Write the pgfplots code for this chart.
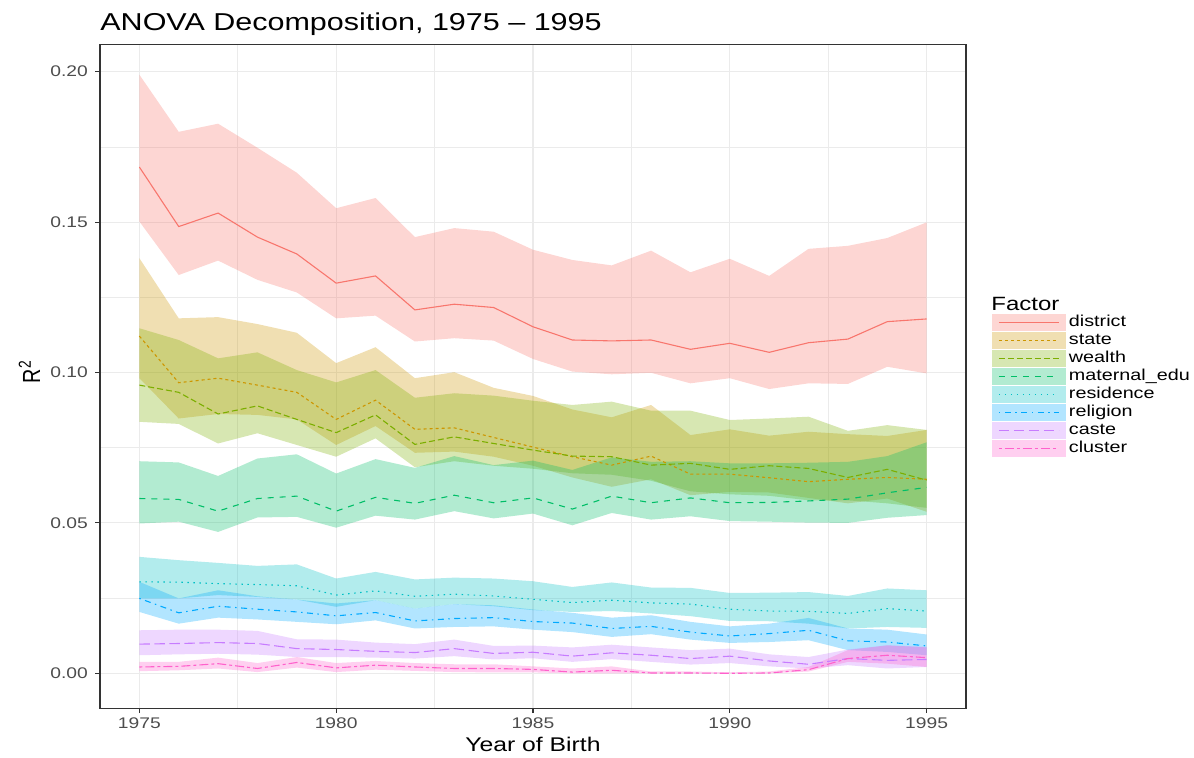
\documentclass[border=0pt]{standalone}
\usepackage{pgfplots}
\pgfplotsset{compat=1.18}
\usepackage{pgfplotstable}
\usepgfplotslibrary{fillbetween}
\usepackage{graphicx}
\usepackage{fontspec}
\setmainfont{Liberation Sans}
\newcommand{\sx}[1]{\scalebox{1.25}[1]{#1}}
\definecolor{cdistrict}{HTML}{F8766D}
\definecolor{cstate}{HTML}{CD9600}
\definecolor{cwealth}{HTML}{7CAE00}
\definecolor{cmaternal}{HTML}{00BE67}
\definecolor{cresidence}{HTML}{00BFC4}
\definecolor{creligion}{HTML}{00A9FF}
\definecolor{ccaste}{HTML}{C77CFF}
\definecolor{ccluster}{HTML}{FF61CC}
\definecolor{gridc}{HTML}{EBEBEB}
\definecolor{framec}{HTML}{333333}
\definecolor{tickc}{HTML}{4D4D4D}

\pgfplotstableread{
year mid lo hi
1975 0.1683 0.1502 0.1990
1976 0.1485 0.1324 0.1800
1977 0.1530 0.1372 0.1827
1978 0.1450 0.1308 0.1747
1979 0.1394 0.1266 0.1664
1980 0.1297 0.1180 0.1546
1981 0.1321 0.1189 0.1580
1982 0.1208 0.1103 0.1450
1983 0.1227 0.1114 0.1480
1984 0.1216 0.1106 0.1468
1985 0.1152 0.1045 0.1408
1986 0.1108 0.1003 0.1374
1987 0.1105 0.0994 0.1356
1988 0.1108 0.0999 0.1405
1989 0.1077 0.0964 0.1333
1990 0.1097 0.0981 0.1378
1991 0.1067 0.0945 0.1321
1992 0.1099 0.0964 0.1411
1993 0.1111 0.0962 0.1421
1994 0.1169 0.1019 0.1447
1995 0.1178 0.0997 0.1499
}\tdistrict

\pgfplotstableread{
year mid lo hi
1975 0.1121 0.0981 0.1380
1976 0.0966 0.0847 0.1180
1977 0.0981 0.0862 0.1184
1978 0.0958 0.0859 0.1161
1979 0.0934 0.0844 0.1132
1980 0.0844 0.0759 0.1031
1981 0.0908 0.0822 0.1084
1982 0.0811 0.0733 0.0981
1983 0.0816 0.0737 0.1001
1984 0.0784 0.0720 0.0949
1985 0.0752 0.0690 0.0922
1986 0.0720 0.0651 0.0877
1987 0.0692 0.0620 0.0851
1988 0.0722 0.0645 0.0892
1989 0.0662 0.0592 0.0792
1990 0.0662 0.0603 0.0811
1991 0.0650 0.0601 0.0790
1992 0.0637 0.0583 0.0803
1993 0.0645 0.0565 0.0795
1994 0.0651 0.0581 0.0789
1995 0.0645 0.0537 0.0809
}\tstate

\pgfplotstableread{
year mid lo hi
1975 0.0958 0.0836 0.1147
1976 0.0934 0.0829 0.1108
1977 0.0862 0.0764 0.1047
1978 0.0889 0.0798 0.1067
1979 0.0844 0.0759 0.1008
1980 0.0800 0.0720 0.0967
1981 0.0859 0.0781 0.1008
1982 0.0761 0.0685 0.0916
1983 0.0786 0.0705 0.0931
1984 0.0764 0.0690 0.0923
1985 0.0742 0.0680 0.0906
1986 0.0722 0.0665 0.0892
1987 0.0720 0.0660 0.0903
1988 0.0692 0.0640 0.0873
1989 0.0698 0.0605 0.0873
1990 0.0678 0.0595 0.0842
1991 0.0690 0.0590 0.0847
1992 0.0681 0.0575 0.0853
1993 0.0651 0.0575 0.0806
1994 0.0678 0.0565 0.0825
1995 0.0642 0.0550 0.0809
}\twealth

\pgfplotstableread{
year mid lo hi
1975 0.0581 0.0498 0.0705
1976 0.0578 0.0504 0.0701
1977 0.0539 0.0470 0.0656
1978 0.0581 0.0518 0.0714
1979 0.0589 0.0520 0.0728
1980 0.0539 0.0484 0.0664
1981 0.0585 0.0524 0.0712
1982 0.0565 0.0511 0.0683
1983 0.0592 0.0539 0.0722
1984 0.0567 0.0515 0.0692
1985 0.0583 0.0531 0.0707
1986 0.0546 0.0492 0.0676
1987 0.0589 0.0533 0.0718
1988 0.0567 0.0511 0.0703
1989 0.0583 0.0522 0.0705
1990 0.0567 0.0506 0.0698
1991 0.0568 0.0504 0.0698
1992 0.0573 0.0501 0.0700
1993 0.0579 0.0500 0.0703
1994 0.0600 0.0517 0.0722
1995 0.0618 0.0526 0.0768
}\tmaternal

\pgfplotstableread{
year mid lo hi
1975 0.0304 0.0249 0.0387
1976 0.0303 0.0249 0.0376
1977 0.0298 0.0260 0.0367
1978 0.0295 0.0254 0.0357
1979 0.0291 0.0245 0.0362
1980 0.0260 0.0221 0.0315
1981 0.0274 0.0243 0.0337
1982 0.0256 0.0215 0.0312
1983 0.0263 0.0230 0.0318
1984 0.0257 0.0223 0.0315
1985 0.0246 0.0210 0.0306
1986 0.0235 0.0204 0.0287
1987 0.0243 0.0207 0.0302
1988 0.0234 0.0199 0.0285
1989 0.0230 0.0190 0.0284
1990 0.0213 0.0174 0.0267
1991 0.0207 0.0173 0.0268
1992 0.0206 0.0165 0.0270
1993 0.0199 0.0149 0.0257
1994 0.0215 0.0154 0.0282
1995 0.0207 0.0151 0.0276
}\tresidence

\pgfplotstableread{
year mid lo hi
1975 0.0249 0.0204 0.0304
1976 0.0201 0.0165 0.0249
1977 0.0223 0.0185 0.0276
1978 0.0213 0.0179 0.0256
1979 0.0204 0.0171 0.0245
1980 0.0191 0.0163 0.0232
1981 0.0202 0.0176 0.0243
1982 0.0174 0.0149 0.0215
1983 0.0182 0.0154 0.0230
1984 0.0185 0.0156 0.0226
1985 0.0172 0.0145 0.0212
1986 0.0167 0.0137 0.0201
1987 0.0149 0.0121 0.0185
1988 0.0156 0.0130 0.0193
1989 0.0137 0.0112 0.0171
1990 0.0124 0.0101 0.0156
1991 0.0132 0.0104 0.0165
1992 0.0143 0.0110 0.0184
1993 0.0108 0.0077 0.0149
1994 0.0104 0.0071 0.0145
1995 0.0091 0.0060 0.0129
}\treligion

\pgfplotstableread{
year mid lo hi
1975 0.0097 0.0060 0.0143
1976 0.0099 0.0063 0.0145
1977 0.0102 0.0065 0.0145
1978 0.0099 0.0062 0.0141
1979 0.0082 0.0054 0.0113
1980 0.0079 0.0054 0.0112
1981 0.0073 0.0052 0.0102
1982 0.0069 0.0049 0.0097
1983 0.0082 0.0057 0.0112
1984 0.0066 0.0046 0.0091
1985 0.0070 0.0050 0.0092
1986 0.0057 0.0038 0.0086
1987 0.0068 0.0047 0.0095
1988 0.0060 0.0038 0.0086
1989 0.0049 0.0029 0.0077
1990 0.0057 0.0034 0.0082
1991 0.0041 0.0023 0.0063
1992 0.0030 0.0016 0.0054
1993 0.0049 0.0027 0.0079
1994 0.0043 0.0016 0.0093
1995 0.0046 0.0021 0.0088
}\tcaste

\pgfplotstableread{
year mid lo hi
1975 0.0021 0.0007 0.0038
1976 0.0023 0.0010 0.0038
1977 0.0032 0.0016 0.0052
1978 0.0016 0.0004 0.0034
1979 0.0036 0.0019 0.0054
1980 0.0018 0.0004 0.0034
1981 0.0027 0.0012 0.0041
1982 0.0021 0.0008 0.0034
1983 0.0016 0.0004 0.0030
1984 0.0016 0.0003 0.0030
1985 0.0013 0.0003 0.0023
1986 0.0004 0.0000 0.0016
1987 0.0010 0.0000 0.0023
1988 0.0001 0.0000 0.0006
1989 0.0001 0.0000 0.0006
1990 0.0000 0.0000 0.0003
1991 0.0001 0.0000 0.0006
1992 0.0012 0.0006 0.0021
1993 0.0049 0.0038 0.0077
1994 0.0060 0.0032 0.0093
1995 0.0052 0.0021 0.0086
}\tcluster

\tikzset{
  ls district/.style={solid},
  ls state/.style={dash pattern=on 1.5pt off 1.5pt},
  ls wealth/.style={dash pattern=on 3pt off 1.5pt},
  ls maternal/.style={dash pattern=on 3pt off 3pt},
  ls residence/.style={dash pattern=on 0.75pt off 2.25pt},
  ls religion/.style={dash pattern=on 0.75pt off 2.25pt on 3pt off 2.25pt},
  ls caste/.style={dash pattern=on 5.25pt off 2.25pt},
  ls cluster/.style={dash pattern=on 1.5pt off 1.5pt on 4.5pt off 1.5pt},
}

\newcommand{\band}[2]{%
  \addplot[draw=none, forget plot, name path=#1U] table[x=year, y=hi] {#2};
  \addplot[draw=none, forget plot, name path=#1L] table[x=year, y=lo] {#2};
  \addplot[fill=c#1, fill opacity=0.3, draw=none, forget plot] fill between[of=#1U and #1L];
}
\newcommand{\midline}[2]{%
  \addplot[c#1, line width=0.55pt, ls #1, forget plot] table[x=year, y=mid] {#2};
}
\newcommand{\legkey}[1]{%
  \addlegendimage{legend image code/.code={%
    \path[fill=c#1, fill opacity=0.3, draw=none] (0pt,-4.25pt) rectangle (37pt,4.25pt);
    \draw[c#1, line width=0.55pt, ls #1] (3.5pt,0pt) -- (33.5pt,0pt);}}
}

\begin{document}
\begin{tikzpicture}
\begin{axis}[
  at={(50pt,24.35pt)}, anchor=south west,
  scale only axis, width=433pt, height=332pt,
  xmin=1974, xmax=1996, ymin=-0.01164, ymax=0.2091,
  xtick={1975,1980,1985,1990,1995},
  minor xtick={1977.5,1982.5,1987.5,1992.5},
  ytick={0,0.05,0.1,0.15,0.2},
  minor ytick={0.025,0.075,0.125,0.175},
  xtick pos=bottom, ytick pos=left,
  grid=both,
  major grid style={color=gridc, line width=0.55pt},
  minor grid style={color=gridc, line width=0.3pt},
  axis line style={color=framec, line width=0.55pt},
  tick align=outside, major tick length=2.4pt, minor tick length=0pt,
  major tick style={color=framec, line width=0.55pt},
  /pgf/number format/assume math mode=true,
  xticklabel={\sx{\pgfmathprintnumber[1000 sep={}]{\tick}}},
  yticklabel={\sx{\pgfmathprintnumber[fixed,fixed zerofill,precision=2]{\tick}}},
  ticklabel style={font=\fontsize{7.7}{9}\selectfont, text=tickc, inner sep=0pt},
  xticklabel style={yshift=-2pt},
  yticklabel style={xshift=-3.5pt},
  legend style={at={(1.0300,0.5934)}, anchor=north west, draw=none, fill=none,
    inner sep=0pt, outer sep=0pt, row sep=0.5pt, column sep=1.5pt,
    font=\fontsize{7.9}{9}\selectfont,
    nodes={inner sep=0pt, text height=6pt, text depth=2.5pt}},
  legend cell align=left,
]
\band{district}{\tdistrict}
\band{state}{\tstate}
\band{wealth}{\twealth}
\band{maternal}{\tmaternal}
\band{residence}{\tresidence}
\band{religion}{\treligion}
\band{caste}{\tcaste}
\band{cluster}{\tcluster}
\midline{district}{\tdistrict}
\midline{state}{\tstate}
\midline{wealth}{\twealth}
\midline{maternal}{\tmaternal}
\midline{residence}{\tresidence}
\midline{religion}{\treligion}
\midline{caste}{\tcaste}
\midline{cluster}{\tcluster}
\legkey{district}\addlegendentry{\sx{district}}
\legkey{state}\addlegendentry{\sx{state}}
\legkey{wealth}\addlegendentry{\sx{wealth}}
\legkey{maternal}\addlegendentry{\sx{maternal\_edu}}
\legkey{residence}\addlegendentry{\sx{residence}}
\legkey{religion}\addlegendentry{\sx{religion}}
\legkey{caste}\addlegendentry{\sx{caste}}
\legkey{cluster}\addlegendentry{\sx{cluster}}
\end{axis}
\node[anchor=base west, font=\fontsize{12.2}{14}\selectfont, inner sep=0pt] at (50pt,363pt) {\sx{ANOVA Decomposition, 1975 – 1995}};
\node[anchor=base, font=\fontsize{9.9}{12}\selectfont, inner sep=0pt] at (266.5pt,3pt) {\sx{Year of Birth}};
\node[anchor=base, rotate=90, font=\fontsize{9.9}{12}\selectfont, inner sep=0pt] at (20pt,192.75pt) {\scalebox{1}[1.25]{R\textsuperscript{2}}};
\node[anchor=base west, font=\fontsize{9.6}{11}\selectfont, inner sep=0pt] at (495.5pt,223.5pt) {\sx{Factor}};
\path (0,0) rectangle (597pt,378.5pt);
\end{tikzpicture}
\end{document}
